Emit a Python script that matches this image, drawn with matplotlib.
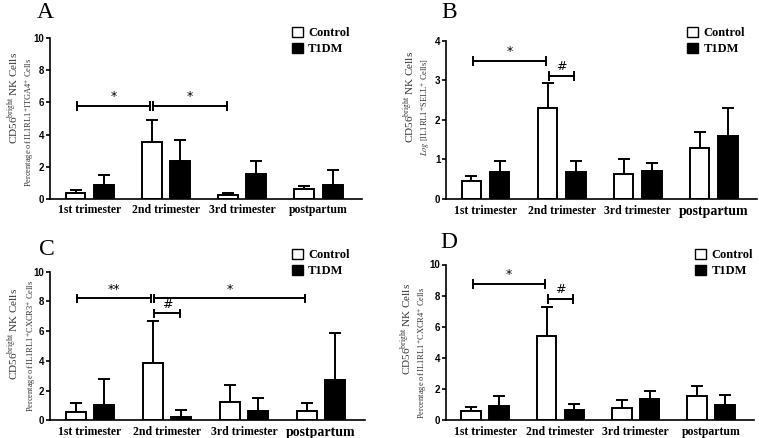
import matplotlib
matplotlib.use("Agg")
import matplotlib.pyplot as plt
import numpy as np
from matplotlib.patches import Patch

plt.rcParams['mathtext.fontset'] = 'stix'

groups = ['1st trimester', '2nd trimester', '3rd trimester', 'postpartum']

# panel A: IL1RL1+ITGA4+
a_ctrl = [0.35, 3.56, 0.21, 0.62]
a_ctrl_err = [0.17, 1.34, 0.14, 0.19]
a_t1dm = [0.87, 2.34, 1.51, 0.87]
a_t1dm_err = [0.60, 1.32, 0.87, 0.89]

# panel B: log IL1RL1+SELL+
b_ctrl = [0.45, 2.31, 0.63, 1.28]
b_ctrl_err = [0.13, 0.61, 0.38, 0.41]
b_t1dm = [0.67, 0.68, 0.71, 1.58]
b_t1dm_err = [0.30, 0.29, 0.19, 0.72]

# panel C: IL1RL1+CXCR3+
c_ctrl = [0.56, 3.84, 1.24, 0.61]
c_ctrl_err = [0.59, 2.81, 1.16, 0.58]
c_t1dm = [1.01, 0.20, 0.63, 2.70]
c_t1dm_err = [1.78, 0.52, 0.88, 3.19]

# panel D: IL1RL1+CXCR4+
d_ctrl = [0.60, 5.41, 0.77, 1.52]
d_ctrl_err = [0.26, 1.86, 0.50, 0.67]
d_t1dm = [0.90, 0.67, 1.37, 0.94]
d_t1dm_err = [0.62, 0.34, 0.48, 0.67]

# significance brackets: (from, to, height, label), ends as (group, series)
a_sig = [((0, 0), (1, 0), 5.77, '*'), ((1, 0), (2, 0), 5.77, '*')]
b_sig = [((0, 0), (1, 0), 3.48, '*'), ((1, 0), (1, 1), 3.11, '#')]
c_sig = [((0, 0), (1, 0), 8.2, '**'), ((1, 0), (3, 0), 8.2, '*'), ((1, 0), (1, 1), 7.19, '#')]
d_sig = [((0, 0), (1, 0), 8.74, '*'), ((1, 0), (1, 1), 7.79, '#')]

W, H = 759, 438
fig = plt.figure(figsize=(W / 100, H / 100), dpi=100)

OFF = 0.185
BW = 0.26
serif = 'Liberation Serif'


def px_axes(l, r, b, t):
    return fig.add_axes([l / W, 1 - b / H, (r - l) / W, (b - t) / H])


def panel(ax, ctrl, ctrl_err, t1dm, t1dm_err, ymax, yticks, sigs, big_post=False):
    x = np.arange(len(groups))
    for xs, vals, errs, fc in [(x - OFF, ctrl, ctrl_err, 'white'), (x + OFF, t1dm, t1dm_err, 'black')]:
        ax.bar(xs, vals, width=BW, facecolor=fc, edgecolor='black', linewidth=1.4, zorder=2)
        ax.errorbar(xs, vals, yerr=[np.zeros(len(vals)), errs], fmt='none', ecolor='black',
                    elinewidth=1.4, capsize=4, capthick=1.4, zorder=1)
    ax.set_xlim(-0.52, 3.57)
    ax.set_ylim(0, ymax)
    ax.set_yticks(yticks)
    ax.set_xticks(x)
    ax.set_xticklabels(groups, fontfamily=serif, fontweight='bold', fontsize=8.5)
    if big_post:
        ax.get_xticklabels()[3].set_fontsize(10)
    ax.tick_params(axis='x', length=0, pad=4)
    ax.tick_params(axis='y', length=3, width=1.2, pad=1, labelsize=7)
    for lab in ax.get_yticklabels():
        lab.set_fontfamily('Liberation Sans')
        lab.set_fontweight('bold')
    for s in ['top', 'right']:
        ax.spines[s].set_visible(False)
    for s in ['left', 'bottom']:
        ax.spines[s].set_linewidth(1.2)

    cap = ymax * 0.025
    for (g1, s1), (g2, s2), y, lab in sigs:
        x1 = g1 + (OFF if s1 else -OFF) + 0.02
        x2 = g2 + (OFF if s2 else -OFF) - 0.02
        ax.plot([x1, x2], [y, y], color='black', lw=1.4, clip_on=False)
        ax.plot([x1, x1], [y - cap, y + cap], color='black', lw=1.4, clip_on=False)
        ax.plot([x2, x2], [y - cap, y + cap], color='black', lw=1.4, clip_on=False)
        ax.text((x1 + x2) / 2, y + ymax * 0.018, lab, ha='center', va='bottom',
                fontsize=9, fontfamily='DejaVu Sans')


def legend(ax, lx, ly):
    handles = [Patch(facecolor='white', edgecolor='black', linewidth=1.0),
               Patch(facecolor='black', edgecolor='black')]
    ax.legend(handles, ['Control', 'T1DM'], loc='upper left',
              bbox_to_anchor=(lx / W, 1 - ly / H), bbox_transform=fig.transFigure,
              frameon=False, prop={'family': serif, 'weight': 'bold', 'size': 9},
              handlelength=0.9, handleheight=0.9, handletextpad=0.4,
              labelspacing=0.25, borderpad=0, borderaxespad=0)


def ylabels(x1, y1, x2, y2, line2, fs2=6):
    fig.text(x1 / W, 1 - y1 / H, 'CD56$^{\\mathrm{bright}}$ NK Cells', rotation=90,
             ha='center', va='center', fontsize=8, fontfamily=serif, color='#333333')
    fig.text(x2 / W, 1 - y2 / H, line2, rotation=90, ha='center', va='center',
             fontsize=fs2, fontfamily=serif, color='#333333')


axA = px_axes(50, 362, 198.7, 38.3)
panel(axA, a_ctrl, a_ctrl_err, a_t1dm, a_t1dm_err, 10, [0, 2, 4, 6, 8, 10], a_sig)
legend(axA, 292, 27)
ylabels(13, 98, 29, 122, 'Percentage of IL1RL1$^{+}$ITGA4$^{+}$ Cells')
fig.text(45 / W, 1 - 13 / H, 'A', fontsize=17, fontfamily=serif, ha='center', va='center')

axB = px_axes(446, 757, 199, 40.7)
panel(axB, b_ctrl, b_ctrl_err, b_t1dm, b_t1dm_err, 4, [0, 1, 2, 3, 4], b_sig, big_post=True)
legend(axB, 687, 27)
ylabels(409, 97, 425, 107, '$\\mathit{Log}$ [IL1RL1$^{+}$SELL$^{+}$ Cells]')
fig.text(449 / W, 1 - 13 / H, 'B', fontsize=17, fontfamily=serif, ha='center', va='center')

axC = px_axes(50, 365, 420.3, 271.7)
panel(axC, c_ctrl, c_ctrl_err, c_t1dm, c_t1dm_err, 10, [0, 2, 4, 6, 8, 10], c_sig, big_post=True)
legend(axC, 292, 249)
ylabels(13, 334, 31, 346, 'Percentage of IL1RL1$^{+}$CXCR3$^{+}$ Cells')
fig.text(47 / W, 1 - 249 / H, 'C', fontsize=17, fontfamily=serif, ha='center', va='center')

axD = px_axes(446, 754, 420, 264.5)
panel(axD, d_ctrl, d_ctrl_err, d_t1dm, d_t1dm_err, 10, [0, 2, 4, 6, 8, 10], d_sig)
legend(axD, 695, 249)
ylabels(406, 329, 422, 353, 'Percentage of IL1RL1$^{+}$CXCR4$^{+}$ Cells')
fig.text(449 / W, 1 - 242 / H, 'D', fontsize=17, fontfamily=serif, ha='center', va='center')

fig.savefig('out.png', dpi=100, facecolor='white')
